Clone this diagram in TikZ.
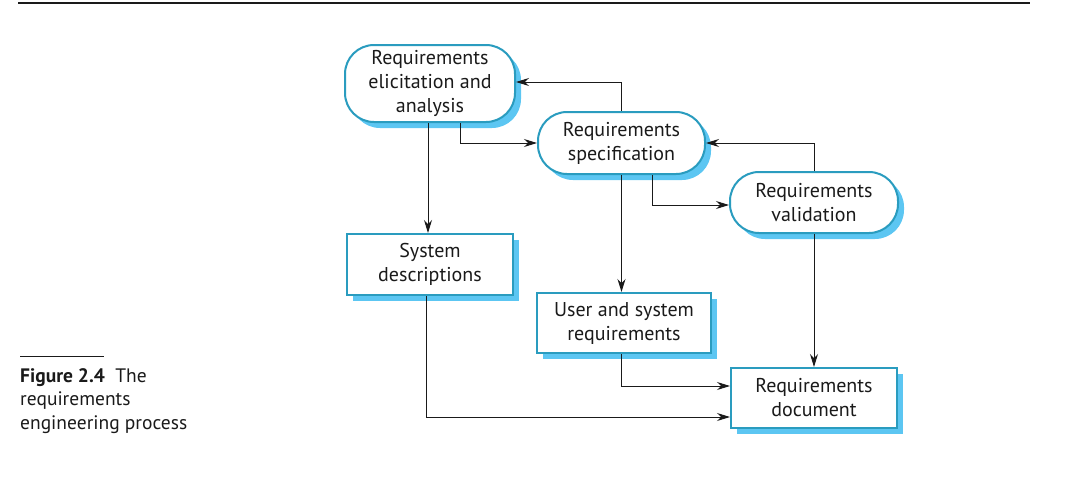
\documentclass[tikz,border=0pt]{standalone}
\usepackage{fontspec}
\setmainfont{PT Sans}
\usetikzlibrary{arrows.meta,shadows}
\definecolor{boxline}{HTML}{2A9CBF}
\definecolor{boxshadow}{HTML}{5CC6F2}
\definecolor{inkgray}{HTML}{1A1A1A}
\begin{document}
\begin{tikzpicture}[x=1pt,y=-1pt,
    stage/.style={draw=boxline, line width=2pt, fill=white, rounded corners=29pt,
      align=center, text=inkgray, inner sep=0pt, font=\fontsize{20}{24}\selectfont,
      general shadow={fill=boxshadow, shadow xshift=6pt, shadow yshift=-6pt}},
    product/.style={stage, sharp corners},
    flow/.style={-{Stealth[length=13pt,width=8pt]}, line width=1pt, draw=inkgray}]
    \useasboundingbox (0,0) rectangle (1080,491);

    % top rule
    \draw[line width=1.5pt, inkgray] (18,3) -- (1030,3);

    % process stages
    \node[stage, minimum width=170pt, minimum height=77pt] (elic) at (430,83.5)
        {Requirements\\elicitation and\\analysis};
    \node[stage, minimum width=167pt, minimum height=62pt] (spec) at (621.5,143)
        {Requirements\\specification};
    \node[stage, minimum width=168pt, minimum height=61pt] (valid) at (814,202.5)
        {Requirements\\validation};

    % products
    \node[product, minimum width=166pt, minimum height=61pt] (sysdesc) at (430,264.5)
        {System\\descriptions};
    \node[product, minimum width=174pt, minimum height=60pt] (usersys) at (624,323)
        {User and system\\requirements};
    \node[product, minimum width=166pt, minimum height=60pt] (reqdoc) at (814,398)
        {Requirements\\document};

    % connectors
    \draw[flow] (spec.north) |- ([yshift=1.5pt]elic.east);
    \draw[flow] ([xshift=30pt]elic.south) |- (spec.west);
    \draw[flow] ([xshift=-2pt]elic.south) -- ([xshift=-2pt]sysdesc.north);
    \draw[flow] (valid.north) |- (spec.east);
    \draw[flow] ([xshift=31pt]spec.south) |- ([yshift=-2.5pt]valid.west);
    \draw[flow] (spec.south) -- (spec.south |- usersys.north);
    \draw[flow] (valid.south) -- (reqdoc.north);
    \draw[flow] ([xshift=-3pt]usersys.south) |- ([yshift=12pt]reqdoc.west);
    \draw[flow] ([xshift=-4pt]sysdesc.south) |- ([yshift=-19pt]reqdoc.west);

    % caption
    \draw[line width=1pt, inkgray] (20,356) -- (104,356);
    \node[anchor=north west, align=left, inner sep=0pt, text=inkgray,
        font=\fontsize{19.5}{23.5}\selectfont] (caption) at (20,368)
        {\textbf{Figure 2.4}\ \ The\\requirements\\engineering process};
\end{tikzpicture}
\end{document}
